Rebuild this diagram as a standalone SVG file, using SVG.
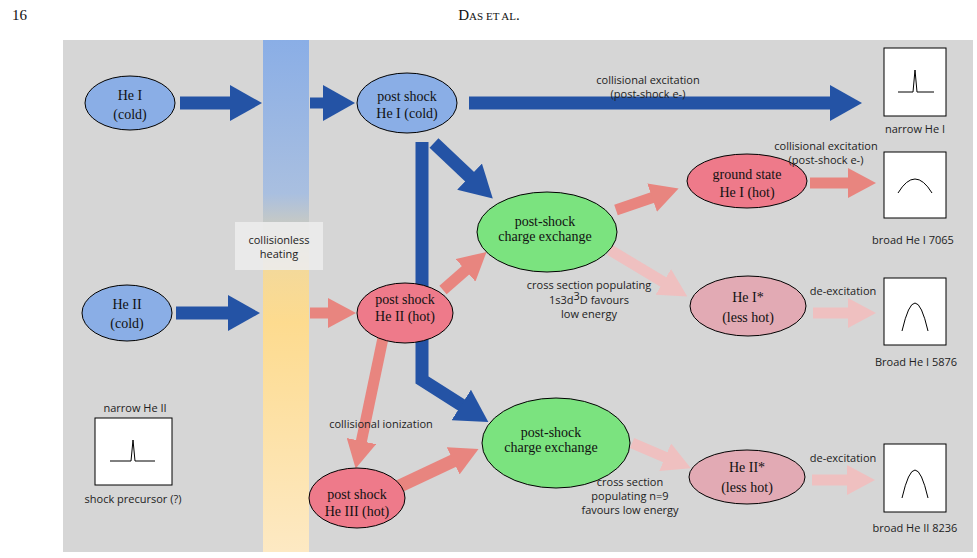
<svg xmlns="http://www.w3.org/2000/svg" width="977" height="558" viewBox="0 0 977 558">
<style>
.s{font-family:"Liberation Serif",serif;fill:#111}
.a{font-family:"Open Sans","Noto Sans",sans-serif;font-size:11px;fill:#222;text-anchor:middle}
.n{font-family:"Liberation Serif",serif;font-size:14px;fill:#111;text-anchor:middle}
.box{fill:#fff;stroke:#000;stroke-width:1}
.sp{fill:none;stroke:#000;stroke-width:1}
</style>
<defs>
<linearGradient id="g" x1="0" y1="0" x2="0" y2="1">
<stop offset="0" stop-color="#8aaee6"/><stop offset="0.3" stop-color="#a9bfe0"/><stop offset="0.45" stop-color="#f4d99a"/><stop offset="0.55" stop-color="#fddb8f"/><stop offset="1" stop-color="#fde9c3"/>
</linearGradient>
<marker id="mb" markerUnits="userSpaceOnUse" markerWidth="32" markerHeight="36" refX="2" refY="18" orient="auto"><path d="M0,0 L32,18 L0,36 Z" fill="#2453a5"/></marker>
<marker id="mp" markerUnits="userSpaceOnUse" markerWidth="28" markerHeight="30" refX="2" refY="15" orient="auto"><path d="M0,0 L28,15 L0,30 Z" fill="#e8857f"/></marker>
<marker id="mf" markerUnits="userSpaceOnUse" markerWidth="28" markerHeight="30" refX="2" refY="15" orient="auto"><path d="M0,0 L28,15 L0,30 Z" fill="#efc0c0"/></marker>
</defs>
<rect width="977" height="558" fill="#fff"/>
<text x="12" y="20" class="s" font-size="15">16</text>
<text x="489" y="20" class="s" font-size="15" text-anchor="middle">D<tspan font-size="11">AS ET AL</tspan>.</text>
<rect x="63" y="40" width="910" height="512" fill="#d6d6d6"/>
<rect x="263" y="40" width="46" height="512" fill="url(#g)"/>
<g id="heat"><rect x="235" y="222" width="88" height="48" fill="#ececec" opacity="0.9"/>
<text x="279" y="244" class="a" font-size="13">collisionless</text><text x="279" y="258" class="a" font-size="13">heating</text></g>
<g id="connectors" fill="none">
<g stroke="#2453a5" stroke-width="13">
<line x1="180" y1="103" x2="232" y2="103" marker-end="url(#mb)"/>
<line x1="176" y1="313" x2="230" y2="313" marker-end="url(#mb)"/>
<line x1="310" y1="103" x2="325" y2="103" stroke-width="11" marker-end="url(#mb)"/>
<line x1="469" y1="103" x2="832" y2="103" marker-end="url(#mb)"/>
<line x1="434" y1="143" x2="471" y2="178" marker-end="url(#mb)"/>
<polyline points="422,142 422,380 463,406" marker-end="url(#mb)"/>
</g>
<g stroke="#e8857f" stroke-width="11">
<line x1="310" y1="313" x2="330" y2="313" marker-end="url(#mp)"/>
<line x1="443" y1="290" x2="467" y2="269" marker-end="url(#mp)"/>
<line x1="383" y1="338" x2="361" y2="443" marker-end="url(#mp)"/>
<line x1="387" y1="492" x2="455" y2="460" stroke-width="13" marker-end="url(#mp)"/>
<line x1="616" y1="210" x2="654" y2="197" marker-end="url(#mp)"/>
<line x1="810" y1="183" x2="850" y2="183" marker-end="url(#mp)"/>
</g>
<g stroke="#efc0c0" stroke-width="11">
<line x1="610" y1="250" x2="665" y2="283" marker-end="url(#mf)"/>
<line x1="813" y1="313" x2="850" y2="313" marker-end="url(#mf)"/>
<line x1="632" y1="443" x2="667" y2="458" marker-end="url(#mf)"/>
<line x1="812" y1="480" x2="849" y2="480" marker-end="url(#mf)"/>
</g>
</g>
<g id="heIcold"><ellipse cx="130" cy="103" rx="45" ry="27" fill="#8aaee6" stroke="#000"/><text x="130" y="100" class="n" font-size="16">He I</text><text x="130" y="119" class="n" font-size="16">(cold)</text></g>
<g id="heIIcold"><ellipse cx="127" cy="313" rx="45" ry="28" fill="#8aaee6" stroke="#000"/><text x="127" y="309" class="n" font-size="16">He II</text><text x="127" y="328" class="n" font-size="16">(cold)</text></g>
<g id="psHeI"><ellipse cx="407" cy="103" rx="50" ry="30" fill="#8aaee6" stroke="#000"/><text x="407" y="101" class="n">post shock</text><text x="407" y="118" class="n">He I (cold)</text></g>
<g id="psHeII"><ellipse cx="405" cy="313" rx="48" ry="30" fill="#ee7a8a" stroke="#000"/><text x="405" y="304" class="n">post shock</text><text x="405" y="321" class="n">He II (hot)</text></g>
<g id="psHeIII"><ellipse cx="357" cy="498" rx="48" ry="30" fill="#ee7a8a" stroke="#000"/><text x="357" y="499" class="n">post shock</text><text x="357" y="516" class="n">He III (hot)</text></g>
<g id="cx1"><ellipse cx="547" cy="232" rx="70" ry="40" fill="#7be37f" stroke="#000"/><text x="545" y="226" class="n" font-size="13">post-shock</text><text x="545" y="241" class="n" font-size="13">charge exchange</text></g>
<g id="cx2"><ellipse cx="556" cy="443" rx="74" ry="45" fill="#7be37f" stroke="#000"/><text x="551" y="437" class="n" font-size="13">post-shock</text><text x="551" y="452" class="n" font-size="13">charge exchange</text></g>
<g id="gs"><ellipse cx="747" cy="181" rx="60" ry="27" fill="#ee7a8a" stroke="#000"/><text x="747" y="179" class="n" font-size="15">ground state</text><text x="747" y="197" class="n" font-size="15">He I (hot)</text></g>
<g id="heIs"><ellipse cx="748" cy="306" rx="58" ry="30" fill="#e2aab4" stroke="#000"/><text x="748" y="302" class="n" font-size="15">He I*</text><text x="748" y="322" class="n" font-size="15">(less hot)</text></g>
<g id="heIIs"><ellipse cx="747" cy="477" rx="58" ry="27" fill="#e2aab4" stroke="#000"/><text x="747" y="472" class="n" font-size="15">He II*</text><text x="747" y="492" class="n" font-size="15">(less hot)</text></g>
<g id="labels">
<text x="648" y="84" class="a">collisional excitation</text><text x="648" y="98" class="a">(post-shock e-)</text>
<text x="826" y="150" class="a">collisional excitation</text><text x="826" y="164" class="a">(post-shock e-)</text>
<text x="589" y="289" class="a">cross section populating</text><text x="589" y="304" class="a">1s3d<tspan dy="-4">3</tspan><tspan dy="4">D favours</tspan></text><text x="589" y="318" class="a">low energy</text>
<text x="843" y="295" class="a">de-excitation</text>
<text x="843" y="462" class="a">de-excitation</text>
<text x="630" y="486" class="a">cross section</text><text x="630" y="500" class="a">populating n=9</text><text x="630" y="514" class="a">favours low energy</text>
<text x="381" y="428" class="a">collisional ionization</text>
<text x="135" y="412" class="a">narrow He II</text>
<text x="133" y="503" class="a" font-size="10">shock precursor (?)</text>
<text x="915" y="133" class="a" font-size="9">narrow He I</text>
<text x="913" y="244" class="a" font-size="9">broad He I 7065</text>
<text x="916" y="366" class="a" font-size="9">Broad He I 5876</text>
<text x="915" y="532" class="a" font-size="9">broad He II 8236</text>
</g>
<g id="spectra">
<rect x="884" y="48" width="62" height="68" class="box"/><path d="M898,92 H910 L913,92 L915,70 L917,92 H934" class="sp"/>
<rect x="884" y="152" width="62" height="66" class="box"/><path d="M898,193 Q915,165 932,193" class="sp"/>
<rect x="884" y="278" width="62" height="67" class="box"/><path d="M902,331 Q915,275 928,331" class="sp"/>
<rect x="884" y="444" width="62" height="68" class="box"/><path d="M902,498 Q915,442 928,498" class="sp"/>
<rect x="95" y="418" width="77" height="67" class="box"/><path d="M110,461 H128 L131,461 L133,440 L135,461 H155" class="sp"/>
</g>
</svg>
